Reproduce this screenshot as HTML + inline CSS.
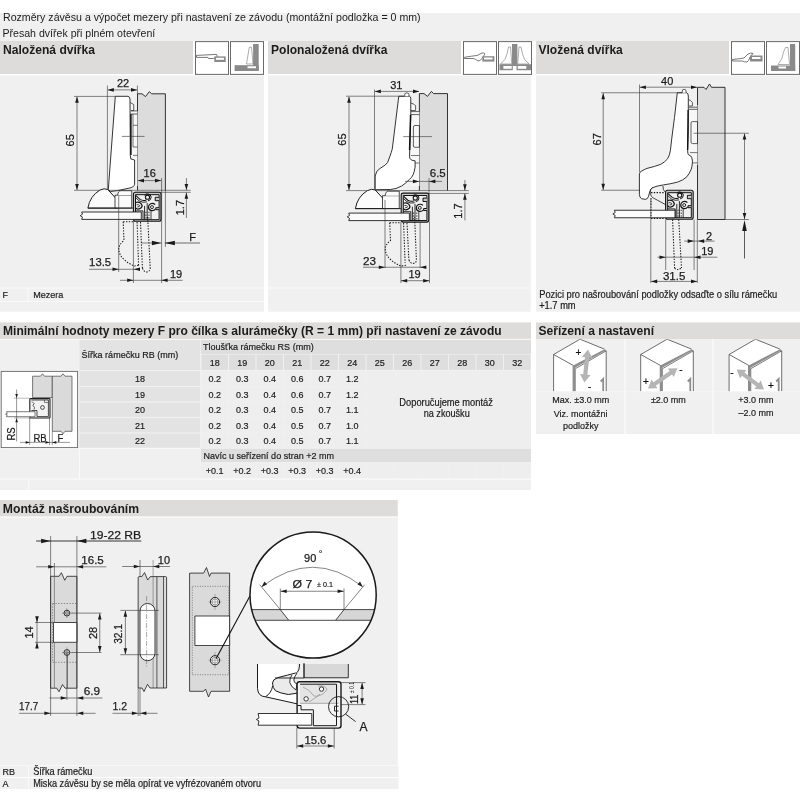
<!DOCTYPE html>
<html><head><meta charset="utf-8"><title>Montáž</title>
<style>
html,body{margin:0;padding:0;background:#fff;width:800px;height:800px;overflow:hidden}
svg{display:block;font-family:"Liberation Sans", sans-serif;will-change:transform}
</style></head><body>
<svg width="800" height="800" viewBox="0 0 800 800">
<rect width="800" height="800" fill="#fff"/>
<rect x="0" y="13" width="800" height="28" fill="#f0f0f0" />
<rect x="0" y="41" width="193" height="33" fill="#dedcda" />
<rect x="268" y="41" width="193" height="33" fill="#dedcda" />
<rect x="536" y="41" width="193" height="33" fill="#dedcda" />
<rect x="0" y="75.5" width="264" height="236.2" fill="#f0f0f0" />
<rect x="268" y="75.5" width="262.79999999999995" height="236.2" fill="#f0f0f0" />
<rect x="536" y="75.5" width="264" height="236.2" fill="#f0f0f0" />
<text x="3" y="21.4" font-size="10.6" font-weight="normal" text-anchor="start" fill="#1c1c1c" textLength="417.6" lengthAdjust="spacingAndGlyphs" >Rozměry závěsu a výpočet mezery při nastavení ze závodu (montážní podložka = 0 mm)</text>
<text x="2.5" y="37.2" font-size="10.6" font-weight="normal" text-anchor="start" fill="#1c1c1c" textLength="152.8" lengthAdjust="spacingAndGlyphs" >Přesah dvířek při plném otevření</text>
<text x="3" y="53.7" font-size="12" font-weight="bold" text-anchor="start" fill="#1c1c1c" textLength="92" lengthAdjust="spacingAndGlyphs" >Naložená dvířka</text>
<text x="271" y="53.7" font-size="12" font-weight="bold" text-anchor="start" fill="#1c1c1c" textLength="116.4" lengthAdjust="spacingAndGlyphs" >Polonaložená dvířka</text>
<text x="538.5" y="53.7" font-size="12" font-weight="bold" text-anchor="start" fill="#1c1c1c" textLength="84.3" lengthAdjust="spacingAndGlyphs" >Vložená dvířka</text>
<line x1="0" y1="288" x2="264" y2="288" stroke="#fafafa" stroke-width="1" />
<line x1="0" y1="301.5" x2="264" y2="301.5" stroke="#fafafa" stroke-width="1" />
<line x1="28" y1="288" x2="28" y2="301.5" stroke="#fafafa" stroke-width="1" />
<line x1="268" y1="288" x2="530.8" y2="288" stroke="#fafafa" stroke-width="1" />
<text x="2.6" y="298" font-size="9.9" font-weight="normal" text-anchor="start" fill="#1c1c1c" stroke="#1c1c1c" stroke-width="0.2" textLength="5.5" lengthAdjust="spacingAndGlyphs" >F</text>
<text x="33.2" y="298" font-size="9.9" font-weight="normal" text-anchor="start" fill="#1c1c1c" stroke="#1c1c1c" stroke-width="0.2" textLength="30.2" lengthAdjust="spacingAndGlyphs" >Mezera</text>
<text x="539.2" y="298" font-size="10.230000000000002" font-weight="normal" text-anchor="start" fill="#1c1c1c" stroke="#1c1c1c" stroke-width="0.2" textLength="238" lengthAdjust="spacingAndGlyphs" >Pozici pro našroubování podložky odsaďte o sílu rámečku</text>
<text x="539.2" y="309.3" font-size="10.230000000000002" font-weight="normal" text-anchor="start" fill="#1c1c1c" stroke="#1c1c1c" stroke-width="0.2" textLength="36.44" lengthAdjust="spacingAndGlyphs" >+1.7 mm</text>
<rect x="0" y="322.4" width="531" height="16.6" fill="#dedcda" />
<text x="3" y="334.8" font-size="12" font-weight="bold" text-anchor="start" fill="#1c1c1c" textLength="498.6" lengthAdjust="spacingAndGlyphs" >Minimální hodnoty mezery F pro čílka s alurámečky (R = 1 mm) při nastavení ze závodu</text>
<rect x="0" y="339" width="531" height="140" fill="#f0f0f0" />
<rect x="0" y="479" width="531" height="11" fill="#f0f0f0" />
<line x1="28.7" y1="479" x2="28.7" y2="490" stroke="#fafafa" stroke-width="1" />
<rect x="79.5" y="339" width="120.5" height="31" fill="#e3e3e3" />
<text x="81.6" y="358" font-size="9.9" font-weight="normal" text-anchor="start" fill="#1c1c1c" stroke="#1c1c1c" stroke-width="0.2" textLength="96.6" lengthAdjust="spacingAndGlyphs" >Šířka rámečku RB (mm)</text>
<rect x="79.5" y="371.1" width="120.5" height="14.8" fill="#e3e3e3" />
<text x="140" y="381.7" font-size="9.9" font-weight="normal" text-anchor="middle" fill="#1c1c1c" stroke="#1c1c1c" stroke-width="0.2" textLength="10.01" lengthAdjust="spacingAndGlyphs" >18</text>
<rect x="79.5" y="387.1" width="120.5" height="14.3" fill="#e3e3e3" />
<text x="140" y="397.7" font-size="9.9" font-weight="normal" text-anchor="middle" fill="#1c1c1c" stroke="#1c1c1c" stroke-width="0.2" textLength="10.01" lengthAdjust="spacingAndGlyphs" >19</text>
<rect x="79.5" y="402.6" width="120.5" height="14.3" fill="#e3e3e3" />
<text x="140" y="413.2" font-size="9.9" font-weight="normal" text-anchor="middle" fill="#1c1c1c" stroke="#1c1c1c" stroke-width="0.2" textLength="10.01" lengthAdjust="spacingAndGlyphs" >20</text>
<rect x="79.5" y="418.1" width="120.5" height="14.3" fill="#e3e3e3" />
<text x="140" y="428.7" font-size="9.9" font-weight="normal" text-anchor="middle" fill="#1c1c1c" stroke="#1c1c1c" stroke-width="0.2" textLength="10.01" lengthAdjust="spacingAndGlyphs" >21</text>
<rect x="79.5" y="433.6" width="120.5" height="14.05" fill="#e3e3e3" />
<text x="140" y="444.2" font-size="9.9" font-weight="normal" text-anchor="middle" fill="#1c1c1c" stroke="#1c1c1c" stroke-width="0.2" textLength="10.01" lengthAdjust="spacingAndGlyphs" >22</text>
<rect x="201" y="339" width="330" height="15" fill="#dedede" />
<text x="203" y="350.1" font-size="9.9" font-weight="normal" text-anchor="start" fill="#1c1c1c" stroke="#1c1c1c" stroke-width="0.2" textLength="110.7" lengthAdjust="spacingAndGlyphs" >Tloušťka rámečku RS (mm)</text>
<rect x="201.5" y="354.6" width="26.5" height="15.3" fill="#dedede" />
<text x="214.75" y="365.6" font-size="9.9" font-weight="normal" text-anchor="middle" fill="#1c1c1c" stroke="#1c1c1c" stroke-width="0.2" textLength="10.01" lengthAdjust="spacingAndGlyphs" >18</text>
<rect x="201.5" y="371.1" width="26.5" height="14.8" fill="#eeeeee" />
<text x="214.75" y="381.5" font-size="9.9" font-weight="normal" text-anchor="middle" fill="#1c1c1c" stroke="#1c1c1c" stroke-width="0.2" textLength="12.51" lengthAdjust="spacingAndGlyphs" >0.2</text>
<rect x="201.5" y="387.1" width="26.5" height="14.3" fill="#eeeeee" />
<text x="214.75" y="397.5" font-size="9.9" font-weight="normal" text-anchor="middle" fill="#1c1c1c" stroke="#1c1c1c" stroke-width="0.2" textLength="12.51" lengthAdjust="spacingAndGlyphs" >0.2</text>
<rect x="201.5" y="402.6" width="26.5" height="14.3" fill="#eeeeee" />
<text x="214.75" y="413" font-size="9.9" font-weight="normal" text-anchor="middle" fill="#1c1c1c" stroke="#1c1c1c" stroke-width="0.2" textLength="12.51" lengthAdjust="spacingAndGlyphs" >0.2</text>
<rect x="201.5" y="418.1" width="26.5" height="14.3" fill="#eeeeee" />
<text x="214.75" y="428.5" font-size="9.9" font-weight="normal" text-anchor="middle" fill="#1c1c1c" stroke="#1c1c1c" stroke-width="0.2" textLength="12.51" lengthAdjust="spacingAndGlyphs" >0.2</text>
<rect x="201.5" y="433.6" width="26.5" height="14.05" fill="#eeeeee" />
<text x="214.75" y="444" font-size="9.9" font-weight="normal" text-anchor="middle" fill="#1c1c1c" stroke="#1c1c1c" stroke-width="0.2" textLength="12.51" lengthAdjust="spacingAndGlyphs" >0.2</text>
<rect x="229.0" y="354.6" width="26.5" height="15.3" fill="#dedede" />
<text x="242.25" y="365.6" font-size="9.9" font-weight="normal" text-anchor="middle" fill="#1c1c1c" stroke="#1c1c1c" stroke-width="0.2" textLength="10.01" lengthAdjust="spacingAndGlyphs" >19</text>
<rect x="229.0" y="371.1" width="26.5" height="14.8" fill="#eeeeee" />
<text x="242.25" y="381.5" font-size="9.9" font-weight="normal" text-anchor="middle" fill="#1c1c1c" stroke="#1c1c1c" stroke-width="0.2" textLength="12.51" lengthAdjust="spacingAndGlyphs" >0.3</text>
<rect x="229.0" y="387.1" width="26.5" height="14.3" fill="#eeeeee" />
<text x="242.25" y="397.5" font-size="9.9" font-weight="normal" text-anchor="middle" fill="#1c1c1c" stroke="#1c1c1c" stroke-width="0.2" textLength="12.51" lengthAdjust="spacingAndGlyphs" >0.3</text>
<rect x="229.0" y="402.6" width="26.5" height="14.3" fill="#eeeeee" />
<text x="242.25" y="413" font-size="9.9" font-weight="normal" text-anchor="middle" fill="#1c1c1c" stroke="#1c1c1c" stroke-width="0.2" textLength="12.51" lengthAdjust="spacingAndGlyphs" >0.3</text>
<rect x="229.0" y="418.1" width="26.5" height="14.3" fill="#eeeeee" />
<text x="242.25" y="428.5" font-size="9.9" font-weight="normal" text-anchor="middle" fill="#1c1c1c" stroke="#1c1c1c" stroke-width="0.2" textLength="12.51" lengthAdjust="spacingAndGlyphs" >0.3</text>
<rect x="229.0" y="433.6" width="26.5" height="14.05" fill="#eeeeee" />
<text x="242.25" y="444" font-size="9.9" font-weight="normal" text-anchor="middle" fill="#1c1c1c" stroke="#1c1c1c" stroke-width="0.2" textLength="12.51" lengthAdjust="spacingAndGlyphs" >0.3</text>
<rect x="256.5" y="354.6" width="26.5" height="15.3" fill="#dedede" />
<text x="269.75" y="365.6" font-size="9.9" font-weight="normal" text-anchor="middle" fill="#1c1c1c" stroke="#1c1c1c" stroke-width="0.2" textLength="10.01" lengthAdjust="spacingAndGlyphs" >20</text>
<rect x="256.5" y="371.1" width="26.5" height="14.8" fill="#eeeeee" />
<text x="269.75" y="381.5" font-size="9.9" font-weight="normal" text-anchor="middle" fill="#1c1c1c" stroke="#1c1c1c" stroke-width="0.2" textLength="12.51" lengthAdjust="spacingAndGlyphs" >0.4</text>
<rect x="256.5" y="387.1" width="26.5" height="14.3" fill="#eeeeee" />
<text x="269.75" y="397.5" font-size="9.9" font-weight="normal" text-anchor="middle" fill="#1c1c1c" stroke="#1c1c1c" stroke-width="0.2" textLength="12.51" lengthAdjust="spacingAndGlyphs" >0.4</text>
<rect x="256.5" y="402.6" width="26.5" height="14.3" fill="#eeeeee" />
<text x="269.75" y="413" font-size="9.9" font-weight="normal" text-anchor="middle" fill="#1c1c1c" stroke="#1c1c1c" stroke-width="0.2" textLength="12.51" lengthAdjust="spacingAndGlyphs" >0.4</text>
<rect x="256.5" y="418.1" width="26.5" height="14.3" fill="#eeeeee" />
<text x="269.75" y="428.5" font-size="9.9" font-weight="normal" text-anchor="middle" fill="#1c1c1c" stroke="#1c1c1c" stroke-width="0.2" textLength="12.51" lengthAdjust="spacingAndGlyphs" >0.4</text>
<rect x="256.5" y="433.6" width="26.5" height="14.05" fill="#eeeeee" />
<text x="269.75" y="444" font-size="9.9" font-weight="normal" text-anchor="middle" fill="#1c1c1c" stroke="#1c1c1c" stroke-width="0.2" textLength="12.51" lengthAdjust="spacingAndGlyphs" >0.4</text>
<rect x="284.0" y="354.6" width="26.5" height="15.3" fill="#dedede" />
<text x="297.25" y="365.6" font-size="9.9" font-weight="normal" text-anchor="middle" fill="#1c1c1c" stroke="#1c1c1c" stroke-width="0.2" textLength="10.01" lengthAdjust="spacingAndGlyphs" >21</text>
<rect x="284.0" y="371.1" width="26.5" height="14.8" fill="#eeeeee" />
<text x="297.25" y="381.5" font-size="9.9" font-weight="normal" text-anchor="middle" fill="#1c1c1c" stroke="#1c1c1c" stroke-width="0.2" textLength="12.51" lengthAdjust="spacingAndGlyphs" >0.6</text>
<rect x="284.0" y="387.1" width="26.5" height="14.3" fill="#eeeeee" />
<text x="297.25" y="397.5" font-size="9.9" font-weight="normal" text-anchor="middle" fill="#1c1c1c" stroke="#1c1c1c" stroke-width="0.2" textLength="12.51" lengthAdjust="spacingAndGlyphs" >0.6</text>
<rect x="284.0" y="402.6" width="26.5" height="14.3" fill="#eeeeee" />
<text x="297.25" y="413" font-size="9.9" font-weight="normal" text-anchor="middle" fill="#1c1c1c" stroke="#1c1c1c" stroke-width="0.2" textLength="12.51" lengthAdjust="spacingAndGlyphs" >0.5</text>
<rect x="284.0" y="418.1" width="26.5" height="14.3" fill="#eeeeee" />
<text x="297.25" y="428.5" font-size="9.9" font-weight="normal" text-anchor="middle" fill="#1c1c1c" stroke="#1c1c1c" stroke-width="0.2" textLength="12.51" lengthAdjust="spacingAndGlyphs" >0.5</text>
<rect x="284.0" y="433.6" width="26.5" height="14.05" fill="#eeeeee" />
<text x="297.25" y="444" font-size="9.9" font-weight="normal" text-anchor="middle" fill="#1c1c1c" stroke="#1c1c1c" stroke-width="0.2" textLength="12.51" lengthAdjust="spacingAndGlyphs" >0.5</text>
<rect x="311.5" y="354.6" width="26.5" height="15.3" fill="#dedede" />
<text x="324.75" y="365.6" font-size="9.9" font-weight="normal" text-anchor="middle" fill="#1c1c1c" stroke="#1c1c1c" stroke-width="0.2" textLength="10.01" lengthAdjust="spacingAndGlyphs" >22</text>
<rect x="311.5" y="371.1" width="26.5" height="14.8" fill="#eeeeee" />
<text x="324.75" y="381.5" font-size="9.9" font-weight="normal" text-anchor="middle" fill="#1c1c1c" stroke="#1c1c1c" stroke-width="0.2" textLength="12.51" lengthAdjust="spacingAndGlyphs" >0.7</text>
<rect x="311.5" y="387.1" width="26.5" height="14.3" fill="#eeeeee" />
<text x="324.75" y="397.5" font-size="9.9" font-weight="normal" text-anchor="middle" fill="#1c1c1c" stroke="#1c1c1c" stroke-width="0.2" textLength="12.51" lengthAdjust="spacingAndGlyphs" >0.7</text>
<rect x="311.5" y="402.6" width="26.5" height="14.3" fill="#eeeeee" />
<text x="324.75" y="413" font-size="9.9" font-weight="normal" text-anchor="middle" fill="#1c1c1c" stroke="#1c1c1c" stroke-width="0.2" textLength="12.51" lengthAdjust="spacingAndGlyphs" >0.7</text>
<rect x="311.5" y="418.1" width="26.5" height="14.3" fill="#eeeeee" />
<text x="324.75" y="428.5" font-size="9.9" font-weight="normal" text-anchor="middle" fill="#1c1c1c" stroke="#1c1c1c" stroke-width="0.2" textLength="12.51" lengthAdjust="spacingAndGlyphs" >0.7</text>
<rect x="311.5" y="433.6" width="26.5" height="14.05" fill="#eeeeee" />
<text x="324.75" y="444" font-size="9.9" font-weight="normal" text-anchor="middle" fill="#1c1c1c" stroke="#1c1c1c" stroke-width="0.2" textLength="12.51" lengthAdjust="spacingAndGlyphs" >0.7</text>
<rect x="339.0" y="354.6" width="26.5" height="15.3" fill="#dedede" />
<text x="352.25" y="365.6" font-size="9.9" font-weight="normal" text-anchor="middle" fill="#1c1c1c" stroke="#1c1c1c" stroke-width="0.2" textLength="10.01" lengthAdjust="spacingAndGlyphs" >24</text>
<rect x="339.0" y="371.1" width="26.5" height="14.8" fill="#eeeeee" />
<text x="352.25" y="381.5" font-size="9.9" font-weight="normal" text-anchor="middle" fill="#1c1c1c" stroke="#1c1c1c" stroke-width="0.2" textLength="12.51" lengthAdjust="spacingAndGlyphs" >1.2</text>
<rect x="339.0" y="387.1" width="26.5" height="14.3" fill="#eeeeee" />
<text x="352.25" y="397.5" font-size="9.9" font-weight="normal" text-anchor="middle" fill="#1c1c1c" stroke="#1c1c1c" stroke-width="0.2" textLength="12.51" lengthAdjust="spacingAndGlyphs" >1.2</text>
<rect x="339.0" y="402.6" width="26.5" height="14.3" fill="#eeeeee" />
<text x="352.25" y="413" font-size="9.9" font-weight="normal" text-anchor="middle" fill="#1c1c1c" stroke="#1c1c1c" stroke-width="0.2" textLength="12.51" lengthAdjust="spacingAndGlyphs" >1.1</text>
<rect x="339.0" y="418.1" width="26.5" height="14.3" fill="#eeeeee" />
<text x="352.25" y="428.5" font-size="9.9" font-weight="normal" text-anchor="middle" fill="#1c1c1c" stroke="#1c1c1c" stroke-width="0.2" textLength="12.51" lengthAdjust="spacingAndGlyphs" >1.0</text>
<rect x="339.0" y="433.6" width="26.5" height="14.05" fill="#eeeeee" />
<text x="352.25" y="444" font-size="9.9" font-weight="normal" text-anchor="middle" fill="#1c1c1c" stroke="#1c1c1c" stroke-width="0.2" textLength="12.51" lengthAdjust="spacingAndGlyphs" >1.1</text>
<rect x="366.5" y="354.6" width="26.5" height="15.3" fill="#dedede" />
<text x="379.75" y="365.6" font-size="9.9" font-weight="normal" text-anchor="middle" fill="#1c1c1c" stroke="#1c1c1c" stroke-width="0.2" textLength="10.01" lengthAdjust="spacingAndGlyphs" >25</text>
<rect x="394.0" y="354.6" width="26.5" height="15.3" fill="#dedede" />
<text x="407.25" y="365.6" font-size="9.9" font-weight="normal" text-anchor="middle" fill="#1c1c1c" stroke="#1c1c1c" stroke-width="0.2" textLength="10.01" lengthAdjust="spacingAndGlyphs" >26</text>
<rect x="421.5" y="354.6" width="26.5" height="15.3" fill="#dedede" />
<text x="434.75" y="365.6" font-size="9.9" font-weight="normal" text-anchor="middle" fill="#1c1c1c" stroke="#1c1c1c" stroke-width="0.2" textLength="10.01" lengthAdjust="spacingAndGlyphs" >27</text>
<rect x="449.0" y="354.6" width="26.5" height="15.3" fill="#dedede" />
<text x="462.25" y="365.6" font-size="9.9" font-weight="normal" text-anchor="middle" fill="#1c1c1c" stroke="#1c1c1c" stroke-width="0.2" textLength="10.01" lengthAdjust="spacingAndGlyphs" >28</text>
<rect x="476.5" y="354.6" width="26.5" height="15.3" fill="#dedede" />
<text x="489.75" y="365.6" font-size="9.9" font-weight="normal" text-anchor="middle" fill="#1c1c1c" stroke="#1c1c1c" stroke-width="0.2" textLength="10.01" lengthAdjust="spacingAndGlyphs" >30</text>
<rect x="504.0" y="354.6" width="26.5" height="15.3" fill="#dedede" />
<text x="517.25" y="365.6" font-size="9.9" font-weight="normal" text-anchor="middle" fill="#1c1c1c" stroke="#1c1c1c" stroke-width="0.2" textLength="10.01" lengthAdjust="spacingAndGlyphs" >32</text>
<rect x="366.5" y="371" width="164.5" height="77" fill="#eeeeee" />
<text x="446.1" y="406" font-size="10.12" font-weight="normal" text-anchor="middle" fill="#1c1c1c" stroke="#1c1c1c" stroke-width="0.2" textLength="93.5" lengthAdjust="spacingAndGlyphs" >Doporučujeme montáž</text>
<text x="446.7" y="417.2" font-size="10.12" font-weight="normal" text-anchor="middle" fill="#1c1c1c" stroke="#1c1c1c" stroke-width="0.2" textLength="46" lengthAdjust="spacingAndGlyphs" >na zkoušku</text>
<rect x="201" y="448.8" width="330" height="13.2" fill="#dedede" />
<text x="203.5" y="458.6" font-size="9.9" font-weight="normal" text-anchor="start" fill="#1c1c1c" stroke="#1c1c1c" stroke-width="0.2" textLength="130.5" lengthAdjust="spacingAndGlyphs" >Navíc u seřízení do stran +2 mm</text>
<rect x="201.5" y="463" width="26.5" height="15.5" fill="#eeeeee" />
<text x="214.75" y="474.2" font-size="9.9" font-weight="normal" text-anchor="middle" fill="#1c1c1c" stroke="#1c1c1c" stroke-width="0.2" textLength="17.77" lengthAdjust="spacingAndGlyphs" >+0.1</text>
<rect x="229.0" y="463" width="26.5" height="15.5" fill="#eeeeee" />
<text x="242.25" y="474.2" font-size="9.9" font-weight="normal" text-anchor="middle" fill="#1c1c1c" stroke="#1c1c1c" stroke-width="0.2" textLength="17.77" lengthAdjust="spacingAndGlyphs" >+0.2</text>
<rect x="256.5" y="463" width="26.5" height="15.5" fill="#eeeeee" />
<text x="269.75" y="474.2" font-size="9.9" font-weight="normal" text-anchor="middle" fill="#1c1c1c" stroke="#1c1c1c" stroke-width="0.2" textLength="17.77" lengthAdjust="spacingAndGlyphs" >+0.3</text>
<rect x="284.0" y="463" width="26.5" height="15.5" fill="#eeeeee" />
<text x="297.25" y="474.2" font-size="9.9" font-weight="normal" text-anchor="middle" fill="#1c1c1c" stroke="#1c1c1c" stroke-width="0.2" textLength="17.77" lengthAdjust="spacingAndGlyphs" >+0.3</text>
<rect x="311.5" y="463" width="26.5" height="15.5" fill="#eeeeee" />
<text x="324.75" y="474.2" font-size="9.9" font-weight="normal" text-anchor="middle" fill="#1c1c1c" stroke="#1c1c1c" stroke-width="0.2" textLength="17.77" lengthAdjust="spacingAndGlyphs" >+0.3</text>
<rect x="339.0" y="463" width="26.5" height="15.5" fill="#eeeeee" />
<text x="352.25" y="474.2" font-size="9.9" font-weight="normal" text-anchor="middle" fill="#1c1c1c" stroke="#1c1c1c" stroke-width="0.2" textLength="17.77" lengthAdjust="spacingAndGlyphs" >+0.4</text>
<rect x="366.5" y="463" width="26.5" height="15.5" fill="#eeeeee" />
<rect x="394.0" y="463" width="26.5" height="15.5" fill="#eeeeee" />
<rect x="421.5" y="463" width="26.5" height="15.5" fill="#eeeeee" />
<rect x="449.0" y="463" width="26.5" height="15.5" fill="#eeeeee" />
<rect x="476.5" y="463" width="26.5" height="15.5" fill="#eeeeee" />
<rect x="504.0" y="463" width="26.5" height="15.5" fill="#eeeeee" />
<line x1="79.5" y1="448" x2="79.5" y2="479" stroke="#fafafa" stroke-width="1" />
<line x1="0" y1="339.4" x2="531" y2="339.4" stroke="#fafafa" stroke-width="1" />
<line x1="536" y1="339.4" x2="800" y2="339.4" stroke="#fafafa" stroke-width="1" />
<line x1="0" y1="448.6" x2="200" y2="448.6" stroke="#fafafa" stroke-width="1" />
<line x1="0" y1="479.2" x2="531" y2="479.2" stroke="#fafafa" stroke-width="1.2" />
<rect x="536" y="322.4" width="264" height="16.6" fill="#dedcda" />
<text x="538.4" y="334.6" font-size="12" font-weight="bold" text-anchor="start" fill="#1c1c1c" textLength="115.7" lengthAdjust="spacingAndGlyphs" >Seřízení a nastavení</text>
<rect x="536" y="339" width="88.5" height="95" fill="#f0f0f0" />
<rect x="625.5" y="339" width="87.0" height="95" fill="#f0f0f0" />
<rect x="713.5" y="339" width="86.5" height="95" fill="#f0f0f0" />
<text x="580.7" y="402.6" font-size="9.9" font-weight="normal" text-anchor="middle" fill="#1c1c1c" stroke="#1c1c1c" stroke-width="0.2" textLength="56.95" lengthAdjust="spacingAndGlyphs" >Max. ±3.0 mm</text>
<text x="580.7" y="416.6" font-size="9.9" font-weight="normal" text-anchor="middle" fill="#1c1c1c" stroke="#1c1c1c" stroke-width="0.2" textLength="53.86" lengthAdjust="spacingAndGlyphs" >Viz. montážni</text>
<text x="580.7" y="428.5" font-size="9.9" font-weight="normal" text-anchor="middle" fill="#1c1c1c" stroke="#1c1c1c" stroke-width="0.2" textLength="35.52" lengthAdjust="spacingAndGlyphs" >podložky</text>
<text x="668.4" y="402.5" font-size="9.9" font-weight="normal" text-anchor="middle" fill="#1c1c1c" stroke="#1c1c1c" stroke-width="0.2" textLength="34.94" lengthAdjust="spacingAndGlyphs" >±2.0 mm</text>
<text x="756" y="402.5" font-size="9.9" font-weight="normal" text-anchor="middle" fill="#1c1c1c" stroke="#1c1c1c" stroke-width="0.2" textLength="35.26" lengthAdjust="spacingAndGlyphs" >+3.0 mm</text>
<text x="756" y="416" font-size="9.9" font-weight="normal" text-anchor="middle" fill="#1c1c1c" stroke="#1c1c1c" stroke-width="0.2" textLength="35.01" lengthAdjust="spacingAndGlyphs" >–2.0 mm</text>
<rect x="0" y="500" width="397.8" height="16.7" fill="#dedcda" />
<text x="2.8" y="512.8" font-size="12" font-weight="bold" text-anchor="start" fill="#1c1c1c" textLength="136.3" lengthAdjust="spacingAndGlyphs" >Montáž našroubováním</text>
<rect x="0" y="516.5" width="397.8" height="248.5" fill="#f0f0f0" />
<line x1="0" y1="517.2" x2="398.5" y2="517.2" stroke="#fbfbfb" stroke-width="1" />
<rect x="0" y="765.5" width="398.5" height="11.5" fill="#f0f0f0" />
<rect x="0" y="778" width="398.5" height="11" fill="#f0f0f0" />
<text x="2.6" y="774.8" font-size="9.9" font-weight="normal" text-anchor="start" fill="#1c1c1c" stroke="#1c1c1c" stroke-width="0.2" textLength="12.5" lengthAdjust="spacingAndGlyphs" >RB</text>
<text x="33.2" y="774.8" font-size="10.12" font-weight="normal" text-anchor="start" fill="#1c1c1c" stroke="#1c1c1c" stroke-width="0.2" textLength="59.2" lengthAdjust="spacingAndGlyphs" >Šířka rámečku</text>
<text x="2.6" y="786.8" font-size="9.9" font-weight="normal" text-anchor="start" fill="#1c1c1c" stroke="#1c1c1c" stroke-width="0.2" textLength="6.0" lengthAdjust="spacingAndGlyphs" >A</text>
<text x="33.2" y="786.8" font-size="10.12" font-weight="normal" text-anchor="start" fill="#1c1c1c" stroke="#1c1c1c" stroke-width="0.2" textLength="227.8" lengthAdjust="spacingAndGlyphs" >Miska závěsu by se měla opírat ve vyfrézovaném otvoru</text>
<line x1="28.5" y1="765.5" x2="28.5" y2="789" stroke="#fafafa" stroke-width="1" />
<path d="M137.5,190.4 V93.8 H142 L145.5,96.6 L149.4,91.6 L151.6,93.8 H165.4 V190.4" fill="#dcdcdc" stroke="#1e1e1e" stroke-width="0.9" />
<path d="M130.5,111 H137.5 V186 H130.5 Z" fill="#f7f7f7" stroke="none" stroke-width="0.7" />
<path d="M130.3,102.6 L133.7,104.5 L133.7,110.6 L131,110.6" fill="#f7f7f7" stroke="#1e1e1e" stroke-width="0.7" />
<line x1="131" y1="110.9" x2="137.5" y2="110.9" stroke="#1e1e1e" stroke-width="0.7" />
<line x1="131" y1="114" x2="137.5" y2="114" stroke="#1e1e1e" stroke-width="0.7" />
<path d="M133,114 V125.3 H137.5" fill="none" stroke="#1e1e1e" stroke-width="0.6" />
<path d="M133,147 H137.5 M133,155.4 H137.5 M133,125.3 V147" fill="none" stroke="#1e1e1e" stroke-width="0.6" />
<path d="M115.3,96.3 H128 Q129.6,96.5 130,99 L130.3,155.4 L130.8,158.9 L134.6,160 V184.2 Q134,187.5 128.9,188.2 L117.5,190.6 L110.5,191.5 L108.3,189.5 Z" fill="#ffffff" stroke="#1e1e1e" stroke-width="0.9" />
<line x1="130.9" y1="114" x2="130.9" y2="155" stroke="#111" stroke-width="1.5" />
<line x1="107.4" y1="85.5" x2="107.4" y2="190" stroke="#333333" stroke-width="0.6" />
<line x1="137.45" y1="85.5" x2="137.45" y2="94" stroke="#333333" stroke-width="0.6" />
<line x1="108" y1="89.9" x2="137" y2="89.9" stroke="#333333" stroke-width="0.6" />
<polygon points="107.6,89.9 113.8,88.10000000000001 113.8,91.7" fill="#1a1a1a"/>
<polygon points="137.2,89.9 131.0,88.10000000000001 131.0,91.7" fill="#1a1a1a"/>
<text x="123" y="86.5" font-size="11.6" font-weight="normal" text-anchor="middle" fill="#1c1c1c" stroke="#1c1c1c" stroke-width="0.25" textLength="12.23" lengthAdjust="spacingAndGlyphs" >22</text>
<line x1="74" y1="96.4" x2="115.3" y2="96.4" stroke="#333333" stroke-width="0.6" />
<line x1="74" y1="190.3" x2="190.7" y2="190.3" stroke="#333333" stroke-width="0.6" />
<line x1="77" y1="97" x2="77" y2="190" stroke="#333333" stroke-width="0.6" />
<polygon points="77,96.6 75.2,102.8 78.8,102.8" fill="#1a1a1a"/>
<polygon points="77,190.1 75.2,183.9 78.8,183.9" fill="#1a1a1a"/>
<text transform="translate(73.5,140.3) rotate(-90)" font-size="11.6" text-anchor="middle" fill="#1c1c1c" stroke="#1c1c1c" stroke-width="0.25" textLength="12.23" lengthAdjust="spacingAndGlyphs">65</text>
<line x1="121.9" y1="136.4" x2="144.6" y2="136.4" stroke="#333333" stroke-width="0.6" />
<text x="149.7" y="177.2" font-size="11.6" font-weight="normal" text-anchor="middle" fill="#1c1c1c" stroke="#1c1c1c" stroke-width="0.25" textLength="12.23" lengthAdjust="spacingAndGlyphs" >16</text>
<line x1="137.8" y1="180.6" x2="161.2" y2="180.6" stroke="#333333" stroke-width="0.6" />
<polygon points="137.8,180.6 144.0,178.79999999999998 144.0,182.4" fill="#1a1a1a"/>
<polygon points="161.2,180.6 155.0,178.79999999999998 155.0,182.4" fill="#1a1a1a"/>
<line x1="161.6" y1="178" x2="161.6" y2="283" stroke="#333333" stroke-width="0.6" />
<line x1="165.4" y1="190" x2="165.4" y2="247" stroke="#333333" stroke-width="0.6" />
<line x1="134" y1="192.3" x2="190.7" y2="192.3" stroke="#333333" stroke-width="0.6" />
<line x1="186.4" y1="178" x2="186.4" y2="190.3" stroke="#333333" stroke-width="0.6" />
<polygon points="186.4,190.1 184.6,183.9 188.20000000000002,183.9" fill="#1a1a1a"/>
<line x1="186.4" y1="192.5" x2="186.4" y2="218" stroke="#333333" stroke-width="0.6" />
<polygon points="186.4,192.5 184.6,198.7 188.20000000000002,198.7" fill="#1a1a1a"/>
<text transform="translate(183.5,207.6) rotate(-90)" font-size="11.6" text-anchor="middle" fill="#1c1c1c" stroke="#1c1c1c" stroke-width="0.25" textLength="15.29" lengthAdjust="spacingAndGlyphs">1.7</text>
<path d="M87.9,208.1 Q89.9,196.1 99.9,190.1 Q104.4,187.79999999999998 107.7,189.5 L117.5,200.1 L117.5,208.1 Z" fill="#fbfbfb" stroke="#1e1e1e" stroke-width="1.0" />
<path d="M115,195.2 H131.75 V208.1 H115 Z" fill="#fbfbfb" stroke="#1e1e1e" stroke-width="0.8" />
<path d="M117.7,195.2 Q118,190.7 121,190.7 H131.75 V195.2" fill="#fbfbfb" stroke="#1e1e1e" stroke-width="0.8" />
<line x1="87.9" y1="208.1" x2="133.4" y2="208.1" stroke="#1e1e1e" stroke-width="0.9" />
<g transform="translate(133.4,192.3)">
<path d="M2,0 H25.6 Q27.6,0 27.6,2 V27 Q27.6,29 25.6,29 H2 Q0,29 0,27 V2 Q0,0 2,0 Z" fill="#c8c8c8" stroke="#141414" stroke-width="1.1" />
<path d="M2.1,2.4 H25.7 V27.4 H2.1 Z" fill="#f0f0f0" stroke="#141414" stroke-width="1.0" />
<path d="M2.5,3.3 L6.6,7.1 Q9.5,8.9 13,7.6" fill="none" stroke="#141414" stroke-width="1.1" />
<path d="M2.5,5.6 L5.8,8.6 Q9.5,10.8 13.5,9.6" fill="none" stroke="#141414" stroke-width="0.9" />
<circle cx="14.1" cy="4.9" r="2.1" fill="none" stroke="#141414" stroke-width="1.1"/>
<path d="M11.3,3 Q12,1.6 14.1,1.6 Q17.6,1.6 17.8,4.9 Q17.6,8.2 14.5,8.6" fill="none" stroke="#141414" stroke-width="1.0" />
<path d="M25.7,5 H21.8 V8.4 H25.7" fill="#c8c8c8" stroke="#141414" stroke-width="1.0" />
<path d="M25.7,15.4 H22.4 V17.4 H25.7" fill="#c8c8c8" stroke="#141414" stroke-width="1.0" />
<path d="M21.8,12.2 Q19.6,10.6 17.2,11.4 Q15,12.6 15.1,14.8 Q15.2,17.6 18.2,18.3 Q20.8,18.6 22,16.9" fill="none" stroke="#141414" stroke-width="1.2" />
<circle cx="18.6" cy="14.8" r="1.5" fill="none" stroke="#141414" stroke-width="0.9"/>
<path d="M2.3,10.2 Q5.2,9.2 7.4,11 Q9.6,13.2 8.1,15.2 Q6,17.2 3.6,16.6 Q2.3,16.2 2.3,15.2" fill="none" stroke="#141414" stroke-width="1.2" />
<path d="M3.2,12.4 Q5.4,12 6.4,13.4 Q6.2,14.8 4,14.6" fill="none" stroke="#141414" stroke-width="0.8" />
<path d="M9.6,18.6 V27.4 M11.2,13.6 V27.4 M13.8,10.8 V27.4" fill="none" stroke="#141414" stroke-width="0.9" />
<path d="M2.1,18.6 H9.6" fill="none" stroke="#141414" stroke-width="0.9" />
<path d="M17.6,27.4 V18.8" fill="none" stroke="#141414" stroke-width="0.8" />
<line x1="12.5" y1="19.4" x2="12.5" y2="27.4" stroke="#1a1a1a" stroke-width="0.9" stroke-dasharray="1.4,1.4"/>
<line x1="15.6" y1="19.4" x2="15.6" y2="27.4" stroke="#1a1a1a" stroke-width="0.9" stroke-dasharray="1.4,1.4"/>
</g>
<path d="M81.7,212 H141.3 V219.4 H81.7 L82.5,217.2 L80.2,215.7 L82.5,214.2 Z" fill="#fbfbfb" stroke="#1e1e1e" stroke-width="0.9" />
<path d="M123.2,221.8 L124,240.5 Q118.5,245 118.75,249 Q119,255 124,259.5 Q129,264 134.5,266 L139.7,265.2" fill="none" stroke="#1a1a1a" stroke-width="1.05" stroke-dasharray="1.4,1.4"/>
<line x1="123.2" y1="221.8" x2="133.4" y2="221.8" stroke="#1a1a1a" stroke-width="1.05" stroke-dasharray="1.4,1.4"/>
<line x1="137.1" y1="222" x2="138.6" y2="266" stroke="#1a1a1a" stroke-width="1.05" stroke-dasharray="1.4,1.4"/>
<line x1="140.5" y1="222" x2="142.4" y2="268" stroke="#1a1a1a" stroke-width="1.05" stroke-dasharray="1.4,1.4"/>
<path d="M142.4,268 Q144,272 146.5,272 Q150.2,271.5 150.2,268 L147.6,216" fill="none" stroke="#1a1a1a" stroke-width="1.05" stroke-dasharray="1.4,1.4"/>
<line x1="118.7" y1="196" x2="118.7" y2="272" stroke="#333333" stroke-width="0.6" />
<line x1="133.4" y1="221" x2="133.4" y2="283" stroke="#333333" stroke-width="0.6" />
<line x1="89.1" y1="269.3" x2="139.3" y2="269.3" stroke="#333333" stroke-width="0.6" />
<polygon points="118.7,269.3 112.5,267.5 112.5,271.1" fill="#1a1a1a"/>
<polygon points="133.8,269.3 140.0,267.5 140.0,271.1" fill="#1a1a1a"/>
<text x="89.1" y="266.4" font-size="11.6" font-weight="normal" text-anchor="start" fill="#1c1c1c" stroke="#1c1c1c" stroke-width="0.25" textLength="22" lengthAdjust="spacingAndGlyphs" >13.5</text>
<line x1="120" y1="280.3" x2="182.6" y2="280.3" stroke="#333333" stroke-width="0.6" />
<polygon points="133.4,280.3 127.2,278.5 127.2,282.1" fill="#1a1a1a"/>
<polygon points="161.4,280.3 167.6,278.5 167.6,282.1" fill="#1a1a1a"/>
<text x="176" y="277.8" font-size="11.6" font-weight="normal" text-anchor="middle" fill="#1c1c1c" stroke="#1c1c1c" stroke-width="0.25" textLength="12.23" lengthAdjust="spacingAndGlyphs" >19</text>
<line x1="141.4" y1="243" x2="161.3" y2="243" stroke="#333333" stroke-width="0.6" />
<polygon points="161.3,243 151.9,240.7 151.9,245.3" fill="#1a1a1a"/>
<line x1="164.75" y1="243" x2="200" y2="243" stroke="#333333" stroke-width="0.7" />
<polygon points="164.9,243 174.9,240.7 174.9,245.3" fill="#1a1a1a"/>
<text x="192.5" y="240.5" font-size="11.6" font-weight="normal" text-anchor="middle" fill="#1c1c1c" stroke="#1c1c1c" stroke-width="0.25" textLength="6.72" lengthAdjust="spacingAndGlyphs" >F</text>
<path d="M419.4,190.6 V93.6 H424 L427.5,96.4 L431.4,91.4 L433.6,93.6 H447.5 V190.6" fill="#dcdcdc" stroke="#1e1e1e" stroke-width="0.9" />
<path d="M410.8,111.6 H419.4 V186 H410.8 Z" fill="#f7f7f7" stroke="none" stroke-width="0.7" />
<path d="M410.75,103 L413.4,104 L415.6,105.6 V110.5 H411" fill="#f7f7f7" stroke="#1e1e1e" stroke-width="0.7" />
<line x1="410.8" y1="111.6" x2="419.4" y2="111.6" stroke="#1e1e1e" stroke-width="0.7" />
<line x1="410.8" y1="114.6" x2="419.4" y2="114.6" stroke="#1e1e1e" stroke-width="0.7" />
<path d="M413.4,127 Q413.4,125.5 415,125.5 H419.4 V147.3 H415 Q413.4,147.3 413.4,146 Z" fill="none" stroke="#1e1e1e" stroke-width="0.7" />
<path d="M411,155.5 H419.4 M411,163 H419.4" fill="none" stroke="#1e1e1e" stroke-width="0.6" />
<path d="M398.75,96.25 H409.6 Q410.75,96.5 410.75,98.5 L410.75,115 L409.5,156.9 Q410,160.8 415.1,160.8 L415.1,167 Q414,176 409.5,179.4 Q405,184 401.6,186 Q396,189.3 390.4,189.5 L375.2,189.7 L375.2,176 Q376,170.4 380,168.5 Q386,165 387.6,162.5 Q392.4,150 392.4,148 Z" fill="#ffffff" stroke="#1e1e1e" stroke-width="0.9" />
<path d="M404.75,96.25 V94.5 Q404.75,92.9 406.8,92.9 Q408.9,92.9 408.9,94.5 V96.25" fill="#fff" stroke="#1e1e1e" stroke-width="0.7" />
<line x1="410.6" y1="115" x2="409.6" y2="150" stroke="#111" stroke-width="1.5" />
<line x1="374.5" y1="89.5" x2="374.5" y2="190" stroke="#333333" stroke-width="0.6" />
<line x1="375" y1="91.4" x2="419" y2="91.4" stroke="#333333" stroke-width="0.6" />
<polygon points="374.7,91.4 380.9,89.60000000000001 380.9,93.2" fill="#1a1a1a"/>
<polygon points="419.2,91.4 413.0,89.60000000000001 413.0,93.2" fill="#1a1a1a"/>
<text x="396.3" y="88.5" font-size="11.6" font-weight="normal" text-anchor="middle" fill="#1c1c1c" stroke="#1c1c1c" stroke-width="0.25" textLength="12.23" lengthAdjust="spacingAndGlyphs" >31</text>
<line x1="346" y1="96.2" x2="404" y2="96.2" stroke="#333333" stroke-width="0.6" />
<line x1="346" y1="190.6" x2="468.8" y2="190.6" stroke="#333333" stroke-width="0.6" />
<line x1="349" y1="97" x2="349" y2="190" stroke="#333333" stroke-width="0.6" />
<polygon points="349,96.5 347.2,102.7 350.8,102.7" fill="#1a1a1a"/>
<polygon points="349,190.3 347.2,184.10000000000002 350.8,184.10000000000002" fill="#1a1a1a"/>
<text transform="translate(345.8,139.6) rotate(-90)" font-size="11.6" text-anchor="middle" fill="#1c1c1c" stroke="#1c1c1c" stroke-width="0.25" textLength="12.23" lengthAdjust="spacingAndGlyphs">65</text>
<line x1="403.25" y1="136.6" x2="432" y2="136.6" stroke="#333333" stroke-width="0.6" />
<line x1="405" y1="181.4" x2="442" y2="181.4" stroke="#333333" stroke-width="0.6" />
<polygon points="419.1,181.4 412.90000000000003,179.6 412.90000000000003,183.20000000000002" fill="#1a1a1a"/>
<polygon points="429.2,181.4 435.4,179.6 435.4,183.20000000000002" fill="#1a1a1a"/>
<text x="429.75" y="177.1" font-size="11.6" font-weight="normal" text-anchor="start" fill="#1c1c1c" stroke="#1c1c1c" stroke-width="0.25" textLength="16" lengthAdjust="spacingAndGlyphs" >6.5</text>
<line x1="429" y1="178" x2="429" y2="222" stroke="#333333" stroke-width="0.6" />
<line x1="401" y1="193.4" x2="468.8" y2="193.4" stroke="#333333" stroke-width="0.6" />
<line x1="464.9" y1="180" x2="464.9" y2="190.6" stroke="#333333" stroke-width="0.6" />
<polygon points="464.9,190.4 463.09999999999997,184.20000000000002 466.7,184.20000000000002" fill="#1a1a1a"/>
<line x1="464.9" y1="193.6" x2="464.9" y2="220.4" stroke="#333333" stroke-width="0.6" />
<polygon points="464.9,193.6 463.09999999999997,199.79999999999998 466.7,199.79999999999998" fill="#1a1a1a"/>
<text transform="translate(462.2,211) rotate(-90)" font-size="11.6" text-anchor="middle" fill="#1c1c1c" stroke="#1c1c1c" stroke-width="0.25" textLength="15.29" lengthAdjust="spacingAndGlyphs">1.7</text>
<path d="M355.4,208.6 Q357.4,196.6 367.4,190.6 Q371.9,188.29999999999998 375.2,190.0 L385.0,200.6 L385.0,208.6 Z" fill="#fbfbfb" stroke="#1e1e1e" stroke-width="1.0" />
<path d="M382.5,195.7 H399.25 V208.6 H382.5 Z" fill="#fbfbfb" stroke="#1e1e1e" stroke-width="0.8" />
<path d="M385.2,195.7 Q385.5,191.2 388.5,191.2 H399.25 V195.7" fill="#fbfbfb" stroke="#1e1e1e" stroke-width="0.8" />
<line x1="355.4" y1="208.6" x2="400.9" y2="208.6" stroke="#1e1e1e" stroke-width="0.9" />
<g transform="translate(401.2,193.1)">
<path d="M2,0 H25.6 Q27.6,0 27.6,2 V27 Q27.6,29 25.6,29 H2 Q0,29 0,27 V2 Q0,0 2,0 Z" fill="#c8c8c8" stroke="#141414" stroke-width="1.1" />
<path d="M2.1,2.4 H25.7 V27.4 H2.1 Z" fill="#f0f0f0" stroke="#141414" stroke-width="1.0" />
<path d="M2.5,3.3 L6.6,7.1 Q9.5,8.9 13,7.6" fill="none" stroke="#141414" stroke-width="1.1" />
<path d="M2.5,5.6 L5.8,8.6 Q9.5,10.8 13.5,9.6" fill="none" stroke="#141414" stroke-width="0.9" />
<circle cx="14.1" cy="4.9" r="2.1" fill="none" stroke="#141414" stroke-width="1.1"/>
<path d="M11.3,3 Q12,1.6 14.1,1.6 Q17.6,1.6 17.8,4.9 Q17.6,8.2 14.5,8.6" fill="none" stroke="#141414" stroke-width="1.0" />
<path d="M25.7,5 H21.8 V8.4 H25.7" fill="#c8c8c8" stroke="#141414" stroke-width="1.0" />
<path d="M25.7,15.4 H22.4 V17.4 H25.7" fill="#c8c8c8" stroke="#141414" stroke-width="1.0" />
<path d="M21.8,12.2 Q19.6,10.6 17.2,11.4 Q15,12.6 15.1,14.8 Q15.2,17.6 18.2,18.3 Q20.8,18.6 22,16.9" fill="none" stroke="#141414" stroke-width="1.2" />
<circle cx="18.6" cy="14.8" r="1.5" fill="none" stroke="#141414" stroke-width="0.9"/>
<path d="M2.3,10.2 Q5.2,9.2 7.4,11 Q9.6,13.2 8.1,15.2 Q6,17.2 3.6,16.6 Q2.3,16.2 2.3,15.2" fill="none" stroke="#141414" stroke-width="1.2" />
<path d="M3.2,12.4 Q5.4,12 6.4,13.4 Q6.2,14.8 4,14.6" fill="none" stroke="#141414" stroke-width="0.8" />
<path d="M9.6,18.6 V27.4 M11.2,13.6 V27.4 M13.8,10.8 V27.4" fill="none" stroke="#141414" stroke-width="0.9" />
<path d="M2.1,18.6 H9.6" fill="none" stroke="#141414" stroke-width="0.9" />
<path d="M17.6,27.4 V18.8" fill="none" stroke="#141414" stroke-width="0.8" />
<line x1="12.5" y1="19.4" x2="12.5" y2="27.4" stroke="#1a1a1a" stroke-width="0.9" stroke-dasharray="1.4,1.4"/>
<line x1="15.6" y1="19.4" x2="15.6" y2="27.4" stroke="#1a1a1a" stroke-width="0.9" stroke-dasharray="1.4,1.4"/>
</g>
<path d="M348.75,213.1 H409.4 V220.6 H348.75 L349.55,218.35 L347.25,216.85 L349.55,215.35 Z" fill="#fbfbfb" stroke="#1e1e1e" stroke-width="0.9" />
<path d="M389.7,222.8 L390.5,240.5 Q385,245 385.25,249 Q385.5,255 390.5,259.5 Q395.5,264 401,266 L406.2,265.2" fill="none" stroke="#1a1a1a" stroke-width="1.05" stroke-dasharray="1.4,1.4"/>
<line x1="389.7" y1="222.8" x2="400.9" y2="222.8" stroke="#1a1a1a" stroke-width="1.05" stroke-dasharray="1.4,1.4"/>
<line x1="403.6" y1="223" x2="405.1" y2="263" stroke="#1a1a1a" stroke-width="1.05" stroke-dasharray="1.4,1.4"/>
<line x1="407" y1="223" x2="408.9" y2="260" stroke="#1a1a1a" stroke-width="1.05" stroke-dasharray="1.4,1.4"/>
<path d="M408.9,260 Q410.5,263.5 413,263.5 Q416.4,263 416.4,260 L414.6,217" fill="none" stroke="#1a1a1a" stroke-width="1.05" stroke-dasharray="1.4,1.4"/>
<line x1="385" y1="200" x2="385" y2="268" stroke="#333333" stroke-width="0.6" />
<line x1="420.1" y1="222" x2="420.1" y2="268" stroke="#333333" stroke-width="0.6" />
<line x1="400.9" y1="222" x2="400.9" y2="283" stroke="#333333" stroke-width="0.6" />
<line x1="429.5" y1="222" x2="429.5" y2="283" stroke="#333333" stroke-width="0.6" />
<line x1="363" y1="267.25" x2="426.3" y2="267.25" stroke="#333333" stroke-width="0.6" />
<polygon points="385,267.25 378.8,265.45 378.8,269.05" fill="#1a1a1a"/>
<polygon points="420.1,267.25 426.3,265.45 426.3,269.05" fill="#1a1a1a"/>
<text x="363" y="264.5" font-size="11.6" font-weight="normal" text-anchor="start" fill="#1c1c1c" stroke="#1c1c1c" stroke-width="0.25" textLength="13" lengthAdjust="spacingAndGlyphs" >23</text>
<line x1="401" y1="280.7" x2="429.4" y2="280.7" stroke="#333333" stroke-width="0.6" />
<polygon points="401,280.7 407.2,278.9 407.2,282.5" fill="#1a1a1a"/>
<polygon points="429.4,280.7 423.2,278.9 423.2,282.5" fill="#1a1a1a"/>
<text x="414.6" y="278.25" font-size="11.6" font-weight="normal" text-anchor="middle" fill="#1c1c1c" stroke="#1c1c1c" stroke-width="0.25" textLength="12.23" lengthAdjust="spacingAndGlyphs" >19</text>
<path d="M697.5,219.5 V87.3 H704 L706,89.5 L709.5,84 L711.5,87.3 H725 V219.5 Z" fill="#dcdcdc" stroke="#1e1e1e" stroke-width="0.9" />
<path d="M689,105 H697.5 V165 H689 Z" fill="#f7f7f7" stroke="none" stroke-width="0.7" />
<path d="M688.3,99.6 L690.5,100.5 L692.4,102.5 V106 H689" fill="#f7f7f7" stroke="#1e1e1e" stroke-width="0.7" />
<line x1="689" y1="107.2" x2="697.5" y2="107.2" stroke="#1e1e1e" stroke-width="0.7" />
<line x1="689" y1="109.3" x2="697.5" y2="109.3" stroke="#1e1e1e" stroke-width="0.7" />
<path d="M691,123 Q691,121.6 692.5,121.6 H697.5 V143.6 H692.5 Q691,143.6 691,142 Z" fill="none" stroke="#1e1e1e" stroke-width="0.7" />
<path d="M690,152.6 H697.5 M692.4,162.9 H697.5" fill="none" stroke="#1e1e1e" stroke-width="0.6" />
<path d="M677.3,92.75 H686.5 Q688.3,93.2 688.3,96 V131.3 L687.6,150.5 Q687.8,154 688.3,154.6 Q691.5,156 691.7,157.4 Q692.6,160 692.4,162.9 Q692.2,166.5 691,169.8 Q689,174 686.9,176.7 Q683,180.5 677.3,182.2 Q670,184 663.5,184.9 Q656,186 652.5,187.7 Q650,189.5 649.75,191.8 L648.4,196.6 Q647.5,199.2 645.6,199.4 L641.5,198.7 Q639.6,197.5 639.4,194.5 V173.9 Q639.6,172 641.5,171.2 Q644,169.5 647,168.4 Q655,166.5 660.8,164.3 Q665,162 667.6,158.8 Q669.8,155 670.4,150.5 L671.8,138.1 L674.5,117.5 Z" fill="#ffffff" stroke="#1e1e1e" stroke-width="0.9" />
<path d="M682.25,92.75 V91 Q682.25,89.3 684.1,89.3 Q686,89.3 686,91 V92.75" fill="#fff" stroke="#1e1e1e" stroke-width="0.7" />
<line x1="688.1" y1="110" x2="687.6" y2="150" stroke="#111" stroke-width="1.3" />
<line x1="639.5" y1="84.5" x2="639.5" y2="172" stroke="#333333" stroke-width="0.6" />
<line x1="640" y1="87.2" x2="697" y2="87.2" stroke="#333333" stroke-width="0.6" />
<polygon points="639.7,87.2 645.9000000000001,85.4 645.9000000000001,89.0" fill="#1a1a1a"/>
<polygon points="697.2,87.2 691.0,85.4 691.0,89.0" fill="#1a1a1a"/>
<text x="667.2" y="84.6" font-size="11.6" font-weight="normal" text-anchor="middle" fill="#1c1c1c" stroke="#1c1c1c" stroke-width="0.25" textLength="12.23" lengthAdjust="spacingAndGlyphs" >40</text>
<line x1="601.2" y1="92.75" x2="682" y2="92.75" stroke="#333333" stroke-width="0.6" />
<line x1="601.2" y1="190.25" x2="640" y2="190.25" stroke="#333333" stroke-width="0.6" />
<line x1="603.2" y1="93.3" x2="603.2" y2="190" stroke="#333333" stroke-width="0.6" />
<polygon points="603.2,93 601.4000000000001,99.2 605.0,99.2" fill="#1a1a1a"/>
<polygon points="603.2,190 601.4000000000001,183.8 605.0,183.8" fill="#1a1a1a"/>
<text transform="translate(600.5,139.3) rotate(-90)" font-size="11.6" text-anchor="middle" fill="#1c1c1c" stroke="#1c1c1c" stroke-width="0.25" textLength="12.23" lengthAdjust="spacingAndGlyphs">67</text>
<line x1="693.5" y1="133.25" x2="748.8" y2="133.25" stroke="#333333" stroke-width="0.6" />
<line x1="725" y1="219.5" x2="748.8" y2="219.5" stroke="#333333" stroke-width="0.6" />
<line x1="744.5" y1="133.5" x2="744.5" y2="219.3" stroke="#333333" stroke-width="0.6" />
<polygon points="744.5,133.4 742.7,139.6 746.3,139.6" fill="#1a1a1a"/>
<polygon points="744.5,219.3 742.7,213.10000000000002 746.3,213.10000000000002" fill="#1a1a1a"/>
<line x1="744.5" y1="222" x2="744.5" y2="258.5" stroke="#333" stroke-width="0.8" />
<polygon points="744.5,220 742.2,231 746.8,231" fill="#1a1a1a"/>
<g transform="translate(665.6,190.3)">
<path d="M2,0 H25.6 Q27.6,0 27.6,2 V27 Q27.6,29 25.6,29 H2 Q0,29 0,27 V2 Q0,0 2,0 Z" fill="#c8c8c8" stroke="#141414" stroke-width="1.1" />
<path d="M2.1,2.4 H25.7 V27.4 H2.1 Z" fill="#f0f0f0" stroke="#141414" stroke-width="1.0" />
<path d="M2.5,3.3 L6.6,7.1 Q9.5,8.9 13,7.6" fill="none" stroke="#141414" stroke-width="1.1" />
<path d="M2.5,5.6 L5.8,8.6 Q9.5,10.8 13.5,9.6" fill="none" stroke="#141414" stroke-width="0.9" />
<circle cx="14.1" cy="4.9" r="2.1" fill="none" stroke="#141414" stroke-width="1.1"/>
<path d="M11.3,3 Q12,1.6 14.1,1.6 Q17.6,1.6 17.8,4.9 Q17.6,8.2 14.5,8.6" fill="none" stroke="#141414" stroke-width="1.0" />
<path d="M25.7,5 H21.8 V8.4 H25.7" fill="#c8c8c8" stroke="#141414" stroke-width="1.0" />
<path d="M25.7,15.4 H22.4 V17.4 H25.7" fill="#c8c8c8" stroke="#141414" stroke-width="1.0" />
<path d="M21.8,12.2 Q19.6,10.6 17.2,11.4 Q15,12.6 15.1,14.8 Q15.2,17.6 18.2,18.3 Q20.8,18.6 22,16.9" fill="none" stroke="#141414" stroke-width="1.2" />
<circle cx="18.6" cy="14.8" r="1.5" fill="none" stroke="#141414" stroke-width="0.9"/>
<path d="M2.3,10.2 Q5.2,9.2 7.4,11 Q9.6,13.2 8.1,15.2 Q6,17.2 3.6,16.6 Q2.3,16.2 2.3,15.2" fill="none" stroke="#141414" stroke-width="1.2" />
<path d="M3.2,12.4 Q5.4,12 6.4,13.4 Q6.2,14.8 4,14.6" fill="none" stroke="#141414" stroke-width="0.8" />
<path d="M9.6,18.6 V27.4 M11.2,13.6 V27.4 M13.8,10.8 V27.4" fill="none" stroke="#141414" stroke-width="0.9" />
<path d="M2.1,18.6 H9.6" fill="none" stroke="#141414" stroke-width="0.9" />
<path d="M17.6,27.4 V18.8" fill="none" stroke="#141414" stroke-width="0.8" />
<line x1="12.5" y1="19.4" x2="12.5" y2="27.4" stroke="#1a1a1a" stroke-width="0.9" stroke-dasharray="1.4,1.4"/>
<line x1="15.6" y1="19.4" x2="15.6" y2="27.4" stroke="#1a1a1a" stroke-width="0.9" stroke-dasharray="1.4,1.4"/>
</g>
<path d="M614.4,210.25 H675 V217.75 H614.4 L615.1999999999999,215.5 L612.9,214.0 L615.1999999999999,212.5 Z" fill="#fbfbfb" stroke="#1e1e1e" stroke-width="0.9" />
<path d="M652.75,187.2 Q649.6,189.5 650.2,193 Q651,197 653,197.8 L666.25,205" fill="none" stroke="#1e1e1e" stroke-width="0.8" />
<path d="M663,186 Q662.5,190 665.6,192.6" fill="none" stroke="#1e1e1e" stroke-width="0.8" />
<line x1="651" y1="192.6" x2="664" y2="192.6" stroke="#1a1a1a" stroke-width="1.05" stroke-dasharray="1.4,1.4"/>
<line x1="651" y1="198" x2="651" y2="217" stroke="#1a1a1a" stroke-width="1.05" stroke-dasharray="1.4,1.4"/>
<line x1="672.6" y1="219.5" x2="674.6" y2="268" stroke="#1a1a1a" stroke-width="1.05" stroke-dasharray="1.4,1.4"/>
<line x1="678.75" y1="219.5" x2="681.5" y2="268" stroke="#1a1a1a" stroke-width="1.05" stroke-dasharray="1.4,1.4"/>
<path d="M674.6,268 Q677,271 681.5,268" fill="none" stroke="#1a1a1a" stroke-width="1.05" stroke-dasharray="1.4,1.4"/>
<line x1="651" y1="218.5" x2="665" y2="218.5" stroke="#1a1a1a" stroke-width="1.05" stroke-dasharray="1.4,1.4"/>
<line x1="650.8" y1="199" x2="650.8" y2="283" stroke="#333333" stroke-width="0.6" />
<line x1="665.7" y1="219.5" x2="665.7" y2="270" stroke="#333333" stroke-width="0.6" />
<line x1="694.1" y1="219.5" x2="694.1" y2="270" stroke="#333333" stroke-width="0.6" />
<line x1="697.3" y1="219.5" x2="697.3" y2="283" stroke="#333333" stroke-width="0.6" />
<line x1="684.25" y1="241.1" x2="714.5" y2="241.1" stroke="#333333" stroke-width="0.6" />
<polygon points="693.9,241.1 687.6999999999999,239.29999999999998 687.6999999999999,242.9" fill="#1a1a1a"/>
<polygon points="698,241.1 704.2,239.29999999999998 704.2,242.9" fill="#1a1a1a"/>
<text x="709" y="239.5" font-size="11.6" font-weight="normal" text-anchor="middle" fill="#1c1c1c" stroke="#1c1c1c" stroke-width="0.25" textLength="6.12" lengthAdjust="spacingAndGlyphs" >2</text>
<line x1="657.4" y1="257.2" x2="717.25" y2="257.2" stroke="#333333" stroke-width="0.6" />
<polygon points="665.7,257.2 659.5,255.39999999999998 659.5,259.0" fill="#1a1a1a"/>
<polygon points="694.3,257.2 700.5,255.39999999999998 700.5,259.0" fill="#1a1a1a"/>
<text x="707.3" y="254.9" font-size="11.6" font-weight="normal" text-anchor="middle" fill="#1c1c1c" stroke="#1c1c1c" stroke-width="0.25" textLength="12.23" lengthAdjust="spacingAndGlyphs" >19</text>
<line x1="651" y1="281.4" x2="697.2" y2="281.4" stroke="#333333" stroke-width="0.6" />
<polygon points="651,281.4 657.2,279.59999999999997 657.2,283.2" fill="#1a1a1a"/>
<polygon points="697.2,281.4 691.0,279.59999999999997 691.0,283.2" fill="#1a1a1a"/>
<text x="674.1" y="279.6" font-size="11.6" font-weight="normal" text-anchor="middle" fill="#1c1c1c" stroke="#1c1c1c" stroke-width="0.25" textLength="22.4" lengthAdjust="spacingAndGlyphs" >31.5</text>
<rect x="195.5" y="41.6" width="33" height="32.8" fill="#fff" stroke="#6a6a6a" stroke-width="1"/>
<path d="M196.5,55.4 L216.5,54.4 L217.5,56.8 L213.4,58.5 L208.5,58.5 L208,57.4 H196.5 Z" fill="#fff" stroke="#555" stroke-width="0.8" />
<rect x="214.3" y="56.4" width="11.4" height="5.6" fill="#8a8a8a"/><rect x="216" y="57.8" width="8" height="2" fill="#fff"/>
<rect x="230.5" y="41.6" width="33" height="32.8" fill="#fff" stroke="#6a6a6a" stroke-width="1"/>
<rect x="253.1" y="44" width="5.6" height="27" fill="#8a8a8a"/><rect x="234.6" y="65.2" width="24.1" height="5.8" fill="#8a8a8a"/><rect x="247.5" y="66.3" width="8.5" height="1.9" fill="#fff"/>
<path d="M249.3,47.2 H251.5 L253,64 H246.5 Z" fill="#fff" stroke="#777" stroke-width="0.6" />
<rect x="463.5" y="41.6" width="33" height="32.8" fill="#fff" stroke="#6a6a6a" stroke-width="1"/>
<path d="M464.5,57.3 Q472,56 477,55.5 Q480,54 482,53 Q484,52.5 485,54 L482,58.5 Q480,61 478,61 Q476,59 473,58.5 H464.5 Z" fill="#fff" stroke="#555" stroke-width="0.8" />
<rect x="482.3" y="56.2" width="12.1" height="5.4" fill="#8a8a8a"/><rect x="484" y="57.5" width="8.5" height="2" fill="#fff"/>
<rect x="498.5" y="41.6" width="33" height="32.8" fill="#fff" stroke="#6a6a6a" stroke-width="1"/>
<path d="M499.5,64.3 H512 V44 H517.4 V64.3 H531 V70.2 H516.5 V66 H512.8 V70.2 H499.5 Z" fill="#8a8a8a"/>
<rect x="503.4" y="66" width="8.3" height="2.8" fill="#fff"/><rect x="517.8" y="66" width="8.5" height="2.8" fill="#fff"/>
<path d="M508.5,47 H510.5 L511.8,64 H500.5 Q506,60 507,54 Z" fill="#fff" stroke="#777" stroke-width="0.6" />
<path d="M521,47 H519 L517.7,64 H529 Q523.5,60 522.5,54 Z" fill="#fff" stroke="#777" stroke-width="0.6" />
<rect x="731.5" y="41.6" width="33" height="32.8" fill="#fff" stroke="#6a6a6a" stroke-width="1"/>
<path d="M732.5,59.5 Q740,58.8 744,58 Q746,56 748,54 Q751,52.5 753,53.5 L750,57 Q749,61 747,62 Q744,62 742.5,61 H732.5 Z" fill="#fff" stroke="#555" stroke-width="0.8" />
<rect x="750" y="55.5" width="12.5" height="6" fill="#8a8a8a"/><rect x="752" y="57" width="8.5" height="2" fill="#fff"/>
<rect x="766.5" y="41.6" width="33" height="32.8" fill="#fff" stroke="#6a6a6a" stroke-width="1"/>
<rect x="790" y="44" width="5.2" height="27" fill="#8a8a8a"/><rect x="771" y="65.5" width="24.2" height="5.5" fill="#8a8a8a"/><rect x="778.5" y="66.5" width="7.5" height="2" fill="#fff"/>
<path d="M785.5,47.5 H788 L789.5,64.5 H778 Q783,59 783.5,52 Z" fill="#fff" stroke="#777" stroke-width="0.6" />
<clipPath id="cl1"><rect x="536" y="339.3" width="264" height="52.3"/></clipPath><g clip-path="url(#cl1)">
<path d="M553.6,391.5 V354.5 L580.0,339.2 L604.6,349.2 L606.2,350.7 V391.5 Z" fill="#fff"/>
<path d="M553.6,391.5 V354.5 L580.0,339.2 L604.6,349.2" fill="none" stroke="#4a4a4a" stroke-width="0.8" />
<path d="M553.6,354.5 L573.2,365.4 V391.5" fill="none" stroke="#4a4a4a" stroke-width="0.8" />
<path d="M573.2,365.4 L604.6,349.2 L606.2,350.4 L575.0,367.79999999999995 Z" fill="#8d8d8d"/>
<path d="M573.2,365.4 H575.8000000000001 V391.5 H573.2 Z" fill="#8d8d8d"/>
<path d="M575.8000000000001,368.4 L606.2,350.8 V391.5" fill="none" stroke="#4a4a4a" stroke-width="0.8" />
<line x1="574.5" y1="368.4" x2="604.6" y2="351.2" stroke="#d0d0d0" stroke-width="0.5"/>
<path d="M603.2,391.5 V379 L600.7,381.5" stroke="#8d8d8d" stroke-width="1.8" fill="none"/>
<path d="M588.00,349.50 L581.86,356.88 L585.04,357.23 L583.18,374.32 L580.00,373.97 L584.40,382.50 L590.54,375.12 L587.36,374.77 L589.22,357.68 L592.40,358.03 Z" fill="#b5b5b5"/>
<text x="578.3" y="356" font-size="10" font-weight="normal" text-anchor="middle" fill="#111" stroke="#111" stroke-width="0.2" >+</text>
<text x="589.6" y="390" font-size="10" font-weight="normal" text-anchor="middle" fill="#111" stroke="#111" stroke-width="0.2" >-</text>
<path d="M640.7,391.5 V354.5 L667.1,339.2 L691.7,349.2 L693.3000000000001,350.7 V391.5 Z" fill="#fff"/>
<path d="M640.7,391.5 V354.5 L667.1,339.2 L691.7,349.2" fill="none" stroke="#4a4a4a" stroke-width="0.8" />
<path d="M640.7,354.5 L660.3000000000001,365.4 V391.5" fill="none" stroke="#4a4a4a" stroke-width="0.8" />
<path d="M660.3000000000001,365.4 L691.7,349.2 L693.3000000000001,350.4 L662.1,367.79999999999995 Z" fill="#8d8d8d"/>
<path d="M660.3000000000001,365.4 H662.9000000000001 V391.5 H660.3000000000001 Z" fill="#8d8d8d"/>
<path d="M662.9000000000001,368.4 L693.3000000000001,350.8 V391.5" fill="none" stroke="#4a4a4a" stroke-width="0.8" />
<line x1="661.6" y1="368.4" x2="691.7" y2="351.2" stroke="#d0d0d0" stroke-width="0.5"/>
<path d="M690.3000000000001,391.5 V379 L687.8000000000001,381.5" stroke="#8d8d8d" stroke-width="1.8" fill="none"/>
<path d="M648.00,388.50 L657.59,388.32 L655.78,385.68 L672.01,374.47 L673.83,377.11 L677.40,368.20 L667.81,368.38 L669.62,371.02 L653.39,382.23 L651.57,379.59 Z" fill="#b5b5b5"/>
<text x="645.9" y="385" font-size="10" font-weight="normal" text-anchor="middle" fill="#111" stroke="#111" stroke-width="0.2" >+</text>
<text x="680.8" y="373" font-size="10" font-weight="normal" text-anchor="middle" fill="#111" stroke="#111" stroke-width="0.2" >-</text>
<path d="M729.1,391.5 V354.5 L755.5,339.2 L780.1,349.2 L781.7,350.7 V391.5 Z" fill="#fff"/>
<path d="M729.1,391.5 V354.5 L755.5,339.2 L780.1,349.2" fill="none" stroke="#4a4a4a" stroke-width="0.8" />
<path d="M729.1,354.5 L748.7,365.4 V391.5" fill="none" stroke="#4a4a4a" stroke-width="0.8" />
<path d="M748.7,365.4 L780.1,349.2 L781.7,350.4 L750.5,367.79999999999995 Z" fill="#8d8d8d"/>
<path d="M748.7,365.4 H751.3000000000001 V391.5 H748.7 Z" fill="#8d8d8d"/>
<path d="M751.3000000000001,368.4 L781.7,350.8 V391.5" fill="none" stroke="#4a4a4a" stroke-width="0.8" />
<line x1="750.0" y1="368.4" x2="780.1" y2="351.2" stroke="#d0d0d0" stroke-width="0.5"/>
<path d="M778.7,391.5 V379 L776.2,381.5" stroke="#8d8d8d" stroke-width="1.8" fill="none"/>
<path d="M736.80,369.40 L740.06,378.42 L741.97,375.86 L756.33,386.52 L754.42,389.09 L764.00,389.60 L760.74,380.58 L758.83,383.14 L744.47,372.48 L746.38,369.91 Z" fill="#b5b5b5"/>
<text x="731.8" y="376" font-size="10" font-weight="normal" text-anchor="middle" fill="#111" stroke="#111" stroke-width="0.2" >-</text>
<text x="770.8" y="389" font-size="10" font-weight="normal" text-anchor="middle" fill="#111" stroke="#111" stroke-width="0.2" >+</text>
</g>
<line x1="536" y1="391.8" x2="800" y2="391.8" stroke="#f7f7f7" stroke-width="0.8" />
<path d="M50.6,576.3 H59.1 L61.4,572.7 L64.75,580.3 L67,576.3 H76.9 V688.2 H65 L62.5,684.5 L59,691.8 L56.75,688.2 H50.6 Z" fill="#dadada" stroke="#1e1e1e" stroke-width="0.8" />
<line x1="67.5" y1="652.5" x2="67.5" y2="688" stroke="#333333" stroke-width="0.5" />
<line x1="54.4" y1="576.3" x2="54.4" y2="688" stroke="#555" stroke-width="0.6" />
<line x1="52.6" y1="603.5" x2="76.5" y2="603.5" stroke="#555" stroke-width="0.6" stroke-dasharray="1.4,1.4"/>
<line x1="52.6" y1="662.3" x2="76.5" y2="662.3" stroke="#555" stroke-width="0.6" stroke-dasharray="1.4,1.4"/>
<line x1="52.6" y1="603.5" x2="52.6" y2="662.3" stroke="#555" stroke-width="0.6" stroke-dasharray="1.4,1.4"/>
<path d="M53.5,622.5 H76.9 V642.3 H53.5 Z" fill="#fff" stroke="#1e1e1e" stroke-width="0.8" />
<circle cx="66.9" cy="613.1" r="2.9" fill="#e8e8e8" stroke="#1e1e1e" stroke-width="0.9"/><circle cx="66.9" cy="613.1" r="1.6" fill="none" stroke="#555" stroke-width="0.5"/>
<line x1="62" y1="613.1" x2="71.8" y2="613.1" stroke="#444" stroke-width="0.4" />
<line x1="66.9" y1="608.1" x2="66.9" y2="618.1" stroke="#444" stroke-width="0.4" />
<circle cx="66.9" cy="652.5" r="2.9" fill="#e8e8e8" stroke="#1e1e1e" stroke-width="0.9"/><circle cx="66.9" cy="652.5" r="1.6" fill="none" stroke="#555" stroke-width="0.5"/>
<line x1="62" y1="652.5" x2="71.8" y2="652.5" stroke="#444" stroke-width="0.4" />
<line x1="66.9" y1="647.5" x2="66.9" y2="657.5" stroke="#444" stroke-width="0.4" />
<line x1="50.6" y1="536" x2="50.6" y2="716" stroke="#333333" stroke-width="0.6" />
<line x1="76.9" y1="536" x2="76.9" y2="716" stroke="#333333" stroke-width="0.6" />
<line x1="54.4" y1="563" x2="54.4" y2="576" stroke="#333333" stroke-width="0.6" />
<line x1="66.9" y1="652.5" x2="66.9" y2="700" stroke="#333333" stroke-width="0.6" />
<line x1="36.2" y1="541" x2="141.3" y2="541" stroke="#222" stroke-width="0.9" />
<polygon points="50.6,541 41.1,538.8 41.1,543.2" fill="#1a1a1a"/>
<polygon points="76.9,541 86.4,538.8 86.4,543.2" fill="#1a1a1a"/>
<text x="90" y="538.8" font-size="11.6" font-weight="normal" text-anchor="start" fill="#1c1c1c" stroke="#1c1c1c" stroke-width="0.25" textLength="51.2" lengthAdjust="spacingAndGlyphs" >19-22 RB</text>
<line x1="36.2" y1="566.8" x2="106.3" y2="566.8" stroke="#333333" stroke-width="0.6" />
<polygon points="54.4,566.8 48.199999999999996,565.0 48.199999999999996,568.5999999999999" fill="#1a1a1a"/>
<polygon points="76.9,566.8 83.10000000000001,565.0 83.10000000000001,568.5999999999999" fill="#1a1a1a"/>
<text x="81.3" y="564.3" font-size="11.6" font-weight="normal" text-anchor="start" fill="#1c1c1c" stroke="#1c1c1c" stroke-width="0.25" textLength="22.5" lengthAdjust="spacingAndGlyphs" >16.5</text>
<line x1="35" y1="622.5" x2="53.5" y2="622.5" stroke="#333333" stroke-width="0.6" />
<line x1="35" y1="642.3" x2="53.5" y2="642.3" stroke="#333333" stroke-width="0.6" />
<line x1="37" y1="617" x2="37" y2="648" stroke="#333333" stroke-width="0.6" />
<polygon points="37,622.5 35.2,616.3 38.8,616.3" fill="#1a1a1a"/>
<polygon points="37,642.3 35.2,648.5 38.8,648.5" fill="#1a1a1a"/>
<text transform="translate(33.3,632.5) rotate(-90)" font-size="11.6" text-anchor="middle" fill="#1c1c1c" stroke="#1c1c1c" stroke-width="0.25" textLength="12.23" lengthAdjust="spacingAndGlyphs">14</text>
<line x1="71.5" y1="613.1" x2="101.5" y2="613.1" stroke="#333333" stroke-width="0.6" />
<line x1="71.5" y1="652.5" x2="101.5" y2="652.5" stroke="#333333" stroke-width="0.6" />
<line x1="99.75" y1="613.5" x2="99.75" y2="652" stroke="#333333" stroke-width="0.6" />
<polygon points="99.75,613.3 97.95,619.5 101.55,619.5" fill="#1a1a1a"/>
<polygon points="99.75,652.3 97.95,646.0999999999999 101.55,646.0999999999999" fill="#1a1a1a"/>
<text transform="translate(96.9,633) rotate(-90)" font-size="11.6" text-anchor="middle" fill="#1c1c1c" stroke="#1c1c1c" stroke-width="0.25" textLength="12.23" lengthAdjust="spacingAndGlyphs">28</text>
<line x1="49.5" y1="698" x2="102.4" y2="698" stroke="#333333" stroke-width="0.6" />
<polygon points="66.9,698 60.7,696.2 60.7,699.8" fill="#1a1a1a"/>
<polygon points="77.1,698 83.3,696.2 83.3,699.8" fill="#1a1a1a"/>
<text x="83.7" y="695.3" font-size="11.6" font-weight="normal" text-anchor="start" fill="#1c1c1c" stroke="#1c1c1c" stroke-width="0.25" textLength="16.4" lengthAdjust="spacingAndGlyphs" >6.9</text>
<line x1="19.1" y1="713.3" x2="95.6" y2="713.3" stroke="#333333" stroke-width="0.6" />
<polygon points="50.6,713.3 44.4,711.5 44.4,715.0999999999999" fill="#1a1a1a"/>
<polygon points="77.1,713.3 83.3,711.5 83.3,715.0999999999999" fill="#1a1a1a"/>
<text x="19.1" y="710.4" font-size="11.6" font-weight="normal" text-anchor="start" fill="#1c1c1c" stroke="#1c1c1c" stroke-width="0.25" textLength="19.2" lengthAdjust="spacingAndGlyphs" >17.7</text>
<path d="M138.15,577.6 Q138.15,576.6 139.2,576.6 H141.8 L144.5,572.6 L147.7,580 L150.25,576.6 H165.6 Q166.6,576.6 166.6,577.6 V688 H150 L147.5,684.3 L144,691.6 L142,688 H138.15 Z" fill="#dadada" stroke="#1e1e1e" stroke-width="0.8" />
<line x1="156.9" y1="576.8" x2="156.9" y2="688" stroke="#1e1e1e" stroke-width="0.7" />
<line x1="163.5" y1="576.8" x2="163.5" y2="688" stroke="#1e1e1e" stroke-width="0.7" />
<line x1="153.1" y1="560" x2="153.1" y2="688" stroke="#333333" stroke-width="0.4" />
<path d="M140,611 A7.5,7.5 0 0 1 155,611 V653.2 A7.5,7.5 0 0 1 140,653.2 Z" fill="#fff" stroke="#1e1e1e" stroke-width="0.9" />
<line x1="146.6" y1="596" x2="146.6" y2="668" stroke="#555" stroke-width="0.5" stroke-dasharray="5,1.5,1,1.5"/>
<line x1="140" y1="560" x2="140" y2="577" stroke="#333333" stroke-width="0.6" />
<line x1="138.15" y1="688" x2="138.15" y2="716" stroke="#333333" stroke-width="0.6" />
<line x1="140" y1="688" x2="140" y2="716" stroke="#333333" stroke-width="0.6" />
<line x1="122.2" y1="566.5" x2="170" y2="566.5" stroke="#333333" stroke-width="0.6" />
<polygon points="140,566.5 133.8,564.7 133.8,568.3" fill="#1a1a1a"/>
<polygon points="153.1,566.5 159.29999999999998,564.7 159.29999999999998,568.3" fill="#1a1a1a"/>
<text x="157.8" y="564" font-size="11.6" font-weight="normal" text-anchor="start" fill="#1c1c1c" stroke="#1c1c1c" stroke-width="0.25" textLength="12.2" lengthAdjust="spacingAndGlyphs" >10</text>
<line x1="120.3" y1="610.4" x2="158.8" y2="610.4" stroke="#333333" stroke-width="0.6" />
<line x1="120.3" y1="654.7" x2="158.8" y2="654.7" stroke="#333333" stroke-width="0.6" />
<line x1="125.4" y1="611" x2="125.4" y2="654" stroke="#333333" stroke-width="0.6" />
<polygon points="125.4,610.6 123.60000000000001,616.8000000000001 127.2,616.8000000000001" fill="#1a1a1a"/>
<polygon points="125.4,654.5 123.60000000000001,648.3 127.2,648.3" fill="#1a1a1a"/>
<text transform="translate(122.3,633.9) rotate(-90)" font-size="11.6" text-anchor="middle" fill="#1c1c1c" stroke="#1c1c1c" stroke-width="0.25" textLength="19.8" lengthAdjust="spacingAndGlyphs">32.1</text>
<line x1="112.5" y1="713.3" x2="157.5" y2="713.3" stroke="#333333" stroke-width="0.6" />
<polygon points="138.1,713.3 131.9,711.5 131.9,715.0999999999999" fill="#1a1a1a"/>
<polygon points="140.2,713.3 146.39999999999998,711.5 146.39999999999998,715.0999999999999" fill="#1a1a1a"/>
<text x="112.5" y="710.4" font-size="11.6" font-weight="normal" text-anchor="start" fill="#1c1c1c" stroke="#1c1c1c" stroke-width="0.25" textLength="14.6" lengthAdjust="spacingAndGlyphs" >1.2</text>
<path d="M189.6,573.1 H203.6 L206.5,567.5 L209.5,576.5 L211,573.1 H229.6 V691.3 H211 L208.5,697 L205.5,689 L203.6,691.3 H189.6 Z" fill="#dadada" stroke="#1e1e1e" stroke-width="0.8" />
<rect x="192.3" y="586.3" width="36.4" height="88.4" fill="none" stroke="#555" stroke-width="0.6" stroke-dasharray="1.2,1.3"/>
<path d="M194.9,616 H229.6 V645.5 H194.9 Z" fill="#fff" stroke="#1e1e1e" stroke-width="0.8" />
<circle cx="215" cy="602" r="4.6" fill="#f4f4f4" stroke="#1e1e1e" stroke-width="1"/><circle cx="215" cy="602" r="3" fill="none" stroke="#666" stroke-width="0.6"/>
<line x1="208.5" y1="602" x2="221.5" y2="602" stroke="#555" stroke-width="0.4" />
<line x1="215" y1="594" x2="215" y2="610" stroke="#555" stroke-width="0.4" />
<circle cx="215" cy="660.2" r="4.6" fill="#f4f4f4" stroke="#1e1e1e" stroke-width="1"/><circle cx="215" cy="660.2" r="3" fill="none" stroke="#666" stroke-width="0.6"/>
<line x1="208.5" y1="660.2" x2="221.5" y2="660.2" stroke="#555" stroke-width="0.4" />
<line x1="215" y1="652.2" x2="215" y2="668.2" stroke="#555" stroke-width="0.4" />
<line x1="216" y1="658.8" x2="251" y2="594" stroke="#111" stroke-width="1.1" />
<clipPath id="mc"><circle cx="313.1" cy="595" r="63"/></clipPath>
<circle cx="313.1" cy="595" r="63.1" fill="#fff"/>
<g clip-path="url(#mc)">
<path d="M240,609.6 H280.3 L288.75,620.3 H240 Z" fill="#d6d6d6" stroke="#1e1e1e" stroke-width="0.8" />
<path d="M390,609.6 H344 L335.6,620.3 H390 Z" fill="#d6d6d6" stroke="#1e1e1e" stroke-width="0.8" />
<line x1="280.3" y1="609.6" x2="344" y2="609.6" stroke="#1e1e1e" stroke-width="0.8" />
<line x1="288.75" y1="620.3" x2="335.6" y2="620.3" stroke="#1e1e1e" stroke-width="0.8" />
</g>
<circle cx="313.1" cy="595" r="63.1" fill="none" stroke="#1a1a1a" stroke-width="1.5"/>
<line x1="280.3" y1="609.6" x2="259.7" y2="584.7" stroke="#333333" stroke-width="0.6" />
<line x1="344" y1="609.6" x2="364.7" y2="584.7" stroke="#333333" stroke-width="0.6" />
<path d="M262,586.5 Q313,548 362.4,586.5" fill="none" stroke="#333333" stroke-width="0.6" />
<polygon points="261.5,587 264.5,581.6 267,584.4" fill="#222"/><polygon points="362.9,587 360,581.6 357.5,584.4" fill="#222"/>
<text x="310.2" y="562.2" font-size="11.6" font-weight="normal" text-anchor="middle" fill="#1c1c1c" stroke="#1c1c1c" stroke-width="0.25" textLength="12.23" lengthAdjust="spacingAndGlyphs" >90</text>
<text x="320.5" y="557" font-size="9.9" font-weight="normal" text-anchor="middle" fill="#1c1c1c" stroke="#1c1c1c" stroke-width="0.2" textLength="3.6" lengthAdjust="spacingAndGlyphs" >°</text>
<line x1="280.3" y1="588.5" x2="280.3" y2="609.6" stroke="#333333" stroke-width="0.6" />
<line x1="344" y1="588.5" x2="344" y2="609.6" stroke="#333333" stroke-width="0.6" />
<line x1="280.5" y1="591.25" x2="343.8" y2="591.25" stroke="#333333" stroke-width="0.6" />
<polygon points="280.5,591.25 286.7,589.45 286.7,593.05" fill="#1a1a1a"/>
<polygon points="343.8,591.25 337.6,589.45 337.6,593.05" fill="#1a1a1a"/>
<text x="292.5" y="587.5" font-size="11.6" font-weight="normal" text-anchor="start" fill="#1c1c1c" stroke="#1c1c1c" stroke-width="0.25" textLength="19.7" lengthAdjust="spacingAndGlyphs" >Ø 7</text>
<text x="317" y="587" font-size="7.700000000000001" font-weight="normal" text-anchor="start" fill="#1c1c1c" stroke="#1c1c1c" stroke-width="0.2" textLength="15.9" lengthAdjust="spacingAndGlyphs" >± 0.1</text>
<rect x="304" y="664" width="44.3" height="13.75" fill="#d8d8d8" />
<path d="M304,664 V677.75 H348.3 V664" fill="none" stroke="#1e1e1e" stroke-width="0.9" />
<line x1="304" y1="663" x2="304" y2="678" stroke="#1e1e1e" stroke-width="0.9" />
<path d="M257.5,664 V688.5 Q258,696.5 265.5,696.8 L297,703.8 V664 Z" fill="#fff" stroke="none" stroke-width="0.7" />
<path d="M257.5,664 V688.5 Q258,696.5 265.5,696.8 L297,703.8" fill="none" stroke="#1a1a1a" stroke-width="1.0" />
<path d="M299.5,664 Q299.5,671 296.5,672.8 Q288,675 277.75,677.6 Q272.5,679.5 272.5,683 Q272.6,688 275.5,690.75 Q280,693.2 288.25,694.5 L297,693.2" fill="#ebebeb" stroke="#1a1a1a" stroke-width="1.0" />
<path d="M272.6,686 Q271.5,693 265.5,696.8" fill="none" stroke="#1a1a1a" stroke-width="1.0" />
<path d="M292,675 Q289.5,678 289.75,682.5 Q291,687 296,690 L297,684 Q294,683 293.8,680 Q294,677 297,673" fill="#fff" stroke="#1a1a1a" stroke-width="0.9" />
<line x1="275" y1="678" x2="304" y2="678" stroke="#1a1a1a" stroke-width="0.9" />
<path d="M299.5,681.8 H338.5 Q341,681.8 341,684.3 V725.6 Q341,728.1 338.5,728.1 H299.5 Q297.1,728.1 297.1,725.6 V684.3 Q297.1,681.8 299.5,681.8 Z" fill="#f4f4f4" stroke="#1a1a1a" stroke-width="1.4" />
<path d="M300,684.2 H338.6 V703.3 H300 Z" fill="#e4e4e4" stroke="none" stroke-width="0.7" />
<path d="M300,703.3 H338.6" fill="none" stroke="#777" stroke-width="0.6" />
<path d="M297.5,705.5 H301 V709.8 H313.4 V725.7 H336.5 V684.2 M300,684.2 H336.5" fill="none" stroke="#1a1a1a" stroke-width="1.0" />
<path d="M303,687 Q310,690 313,695 Q316,698 320,694 M318,686 Q324,685 327,689 Q325,694 318,696 Q312,700 309,702" fill="none" stroke="#999" stroke-width="0.8" />
<circle cx="321.5" cy="689.1" r="2.2" fill="#fff" stroke="#222" stroke-width="0.9"/><circle cx="306.1" cy="698.9" r="2.2" fill="#fff" stroke="#222" stroke-width="0.9"/>
<path d="M258.1,713.5 H311.75 V725.2 H258.1 L259,721 L256.3,719.5 L259,718 Z" fill="#fff" stroke="#1e1e1e" stroke-width="0.9" />
<circle cx="338.6" cy="706.7" r="10.1" fill="none" stroke="#1a1a1a" stroke-width="0.9"/>
<path d="M338.6,706.2 H334.5 V711 H338.6" fill="none" stroke="#1a1a1a" stroke-width="0.9" />
<line x1="345.5" y1="714" x2="355.6" y2="721.6" stroke="#1a1a1a" stroke-width="0.9" />
<text x="363.6" y="730.6" font-size="12" font-weight="normal" text-anchor="middle" fill="#1c1c1c" stroke="#1c1c1c" stroke-width="0.25" >A</text>
<line x1="341" y1="682.6" x2="365.5" y2="682.6" stroke="#333333" stroke-width="0.6" />
<line x1="341" y1="704.6" x2="365.5" y2="704.6" stroke="#333333" stroke-width="0.6" />
<line x1="362.1" y1="683" x2="362.1" y2="704.2" stroke="#333333" stroke-width="0.6" />
<polygon points="362.1,682.8 360.3,689.0 363.90000000000003,689.0" fill="#1a1a1a"/>
<polygon points="362.1,704.4 360.3,698.1999999999999 363.90000000000003,698.1999999999999" fill="#1a1a1a"/>
<text transform="translate(358.2,699.3) rotate(-90)" font-size="11.6" text-anchor="middle" fill="#1c1c1c" stroke="#1c1c1c" stroke-width="0.25" textLength="9.5" lengthAdjust="spacingAndGlyphs">11</text>
<text transform="translate(353.6,687.5) rotate(-90)" font-size="6.5" text-anchor="middle" fill="#222" textLength="11.4" lengthAdjust="spacingAndGlyphs">± 0.1</text>
<line x1="296.8" y1="728" x2="296.8" y2="748.5" stroke="#333333" stroke-width="0.6" />
<line x1="334.2" y1="728" x2="334.2" y2="748.5" stroke="#333333" stroke-width="0.6" />
<line x1="297" y1="746" x2="334" y2="746" stroke="#333333" stroke-width="0.6" />
<polygon points="297,746 303.2,744.2 303.2,747.8" fill="#1a1a1a"/>
<polygon points="334,746 327.8,744.2 327.8,747.8" fill="#1a1a1a"/>
<text x="315.4" y="743.6" font-size="11.6" font-weight="normal" text-anchor="middle" fill="#1c1c1c" stroke="#1c1c1c" stroke-width="0.25" textLength="22" lengthAdjust="spacingAndGlyphs" >15.6</text>
<rect x="1.2" y="371.4" width="76.4" height="76.2" fill="#fff" stroke="#6a6a6a" stroke-width="0.9"/>
<path d="M32.6,397.6 V376.2 H40.5 L42.5,373.8 L44.5,376.2 H52.3 V397.6 Z" fill="#dadada" stroke="#444" stroke-width="0.7" />
<path d="M52.3,431.3 V376.2 H61 L63,373.8 L65,376.2 H72 V431.3 H65 L63,433.8 L61,431.3 Z" fill="#dadada" stroke="#444" stroke-width="0.7" />
<path d="M30.5,398.6 H49.3 Q50,398.6 50,399.3 V417.3 Q50,418 49.3,418 H30.5 Q29.8,418 29.8,417.3 V399.3 Q29.8,398.6 30.5,398.6 Z" fill="#f2f2f2" stroke="#1e1e1e" stroke-width="1.1" />
<path d="M31.4,400 H48.4 V416.6 H37 V410.5 H31.4" fill="none" stroke="#1e1e1e" stroke-width="0.8" />
<circle cx="42.5" cy="407.5" r="1.9" fill="none" stroke="#222" stroke-width="0.8"/>
<path d="M32,401.5 Q35.5,403.5 33,405.5 Q35.5,407.5 34,409.5" fill="none" stroke="#333" stroke-width="0.8" />
<path d="M44.5,400 V402.5 H48.4" fill="none" stroke="#333" stroke-width="0.6" />
<path d="M6.5,411.7 H35 V416.7 H6.5 L7.2,414.8 L5.6,414.2 L7.2,413.5 Z" fill="#fff" stroke="#444" stroke-width="0.7" />
<line x1="14" y1="398.2" x2="30" y2="398.2" stroke="#777" stroke-width="0.5" />
<line x1="14" y1="418" x2="30" y2="418" stroke="#777" stroke-width="0.5" />
<line x1="16.6" y1="389.5" x2="16.6" y2="441.5" stroke="#333333" stroke-width="0.5" />
<polygon points="16.6,398 15.3,394 17.900000000000002,394" fill="#1a1a1a"/>
<polygon points="16.6,418.2 15.3,422.2 17.900000000000002,422.2" fill="#1a1a1a"/>
<text transform="translate(14.6,434) rotate(-90)" font-size="10.450000000000001" text-anchor="middle" fill="#1c1c1c" stroke="#1c1c1c" stroke-width="0.25" textLength="13.2" lengthAdjust="spacingAndGlyphs">RS</text>
<line x1="29.7" y1="418" x2="29.7" y2="445" stroke="#333333" stroke-width="0.5" />
<line x1="49.5" y1="418" x2="49.5" y2="445" stroke="#333333" stroke-width="0.5" />
<line x1="52.3" y1="431.3" x2="52.3" y2="445" stroke="#333333" stroke-width="0.5" />
<line x1="20" y1="442.4" x2="70" y2="442.4" stroke="#333333" stroke-width="0.5" />
<polygon points="29.7,442.4 25.7,441.09999999999997 25.7,443.7" fill="#1a1a1a"/>
<polygon points="49.5,442.4 45.5,441.09999999999997 45.5,443.7" fill="#1a1a1a"/>
<polygon points="52.3,442.4 56.3,441.09999999999997 56.3,443.7" fill="#1a1a1a"/>
<text x="40" y="441.5" font-size="10.450000000000001" font-weight="normal" text-anchor="middle" fill="#1c1c1c" stroke="#1c1c1c" stroke-width="0.2" textLength="13.2" lengthAdjust="spacingAndGlyphs" >RB</text>
<text x="60.3" y="441.5" font-size="10.450000000000001" font-weight="normal" text-anchor="middle" fill="#1c1c1c" stroke="#1c1c1c" stroke-width="0.2" textLength="5.8" lengthAdjust="spacingAndGlyphs" >F</text>
</svg>
</body></html>
